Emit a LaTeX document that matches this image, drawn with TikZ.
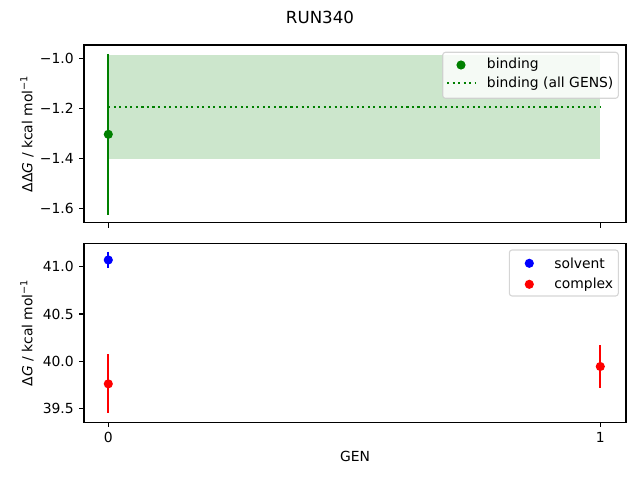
\documentclass[tikz,border=0pt]{standalone}
\usepackage{fontspec}
\setmainfont{DejaVu Sans}
\usetikzlibrary{%
calc,
positioning
}
\definecolor{mplgreen}{RGB}{0,128,0}
\definecolor{mplblue}{RGB}{0,0,255}
\definecolor{mplred}{RGB}{255,0,0}
\definecolor{legedge}{RGB}{204,204,204}
\tikzset{
  ticklab/.style={inner sep=0pt,font=\fontsize{10}{12}\selectfont},
  frame/.style={line width=0.8pt,black},
  errbar/.style={line width=1.5pt},
  legbox/.style={draw=legedge,fill=white,fill opacity=0.8,draw opacity=0.8,line width=0.8pt,rounded corners=2pt},
  declare function={gx(\g)=108.3+492*\g; ty(\v)=58.3-250*(\v+1); by(\v)=361.3-94.7*(\v-40);}
}

\begin{document}
\begin{tikzpicture}[x=0.72pt,y=-0.72pt]
\newdimen\Mark
\Mark=3.3pt
\useasboundingbox (0,0) rectangle (640,480);
\node[font=\fontsize{12}{14}\selectfont] (title) at (320,17) {RUN340};
    % upper panel: binding
    \fill[mplgreen,opacity=0.2] ({gx(0)},{ty(-0.987)}) rectangle ({gx(1)},{ty(-1.401)});
    \draw[mplgreen,line width=1.5pt,dash pattern=on 1.5pt off 2.475pt] ({gx(0)},{ty(-1.194)}) -- ({gx(1)},{ty(-1.194)});
    \draw[mplgreen,errbar] ({gx(0)},{ty(-0.982)}) -- ({gx(0)},{ty(-1.626)});
    \fill[mplgreen] ({gx(0)},{ty(-1.304)}) circle (\Mark);
    \draw[frame] (84,45) rectangle (626,222.7);
        \foreach \v/\t in {-1.0/−1.0,-1.2/−1.2,-1.4/−1.4,-1.6/−1.6} {
                \draw[frame] (84,{ty(\v)}) -- ++(-3.5pt,0) node[ticklab,left=3.5pt] (ty\t) {\t};
		}
        \foreach \g in {0,1} {
                \draw[frame] ({gx(\g)},222.7) -- ++(0,-3.5pt);
		}
\node[rotate=90] (ddg) at (27,133.8) {ΔΔ\textit{G} / kcal mol\textsuperscript{−1}};
    % legend (upper)
    \draw[legbox] (442.7,52.3) rectangle (618.3,98.3);
    \fill[mplgreen] (461,65) circle (\Mark);
    \draw[mplgreen,line width=1.5pt,dash pattern=on 1.5pt off 2.475pt] (447,83.3) -- (475,83.3);
\node[ticklab,anchor=west] (lbind) at (486.7,65) {binding};
\node[ticklab,anchor=west] (lall) at (486.7,83.3) {binding (all GENS)};
    % lower panel: solvent and complex
        \foreach \g/\v/\e/\c in {0/41.07/0.088/mplblue,0/39.762/0.313/mplred,1/39.945/0.222/mplred} {
                \draw[\c,errbar] ({gx(\g)},{by(\v+\e)}) -- ({gx(\g)},{by(\v-\e)});
                \fill[\c] ({gx(\g)},{by(\v)}) circle (\Mark);
		}
    \draw[frame] (84,243.3) rectangle (626,422.3);
        \foreach \v/\t in {39.5/39.5,40.0/40.0,40.5/40.5,41.0/41.0} {
                \draw[frame] (84,{by(\v)}) -- ++(-3.5pt,0) node[ticklab,left=3.5pt] (by\t) {\t};
		}
        \foreach \g in {0,1} {
                \draw[frame] ({gx(\g)},422.3) -- ++(0,-3.5pt) node[ticklab,below=3.5pt] (gx\g) {\g};
		}
\node[rotate=90] (dg) at (27,332.8) {Δ\textit{G} / kcal mol\textsuperscript{−1}};
\node (gen) at (355,456) {GEN};
    % legend (lower)
    \draw[legbox] (509.3,250) rectangle (618.3,296);
    \fill[mplblue] (529.3,263.3) circle (\Mark);
    \fill[mplred] (529.3,284.3) circle (\Mark);
\node[ticklab,anchor=west] (lsolv) at (554,263.3) {solvent};
\node[ticklab,anchor=west] (lcomp) at (554,284.3) {complex};
\end{tikzpicture}
\end{document}
